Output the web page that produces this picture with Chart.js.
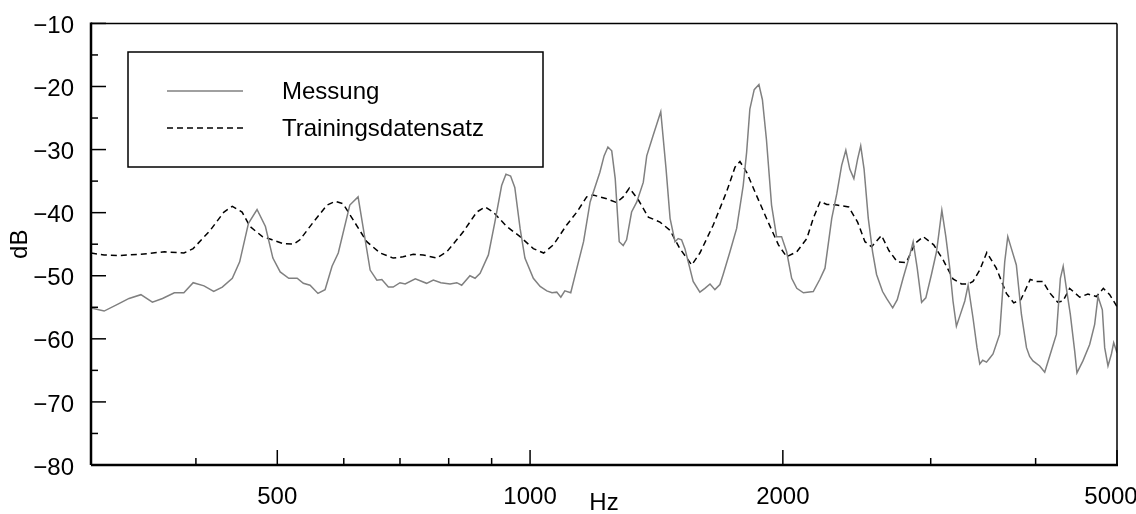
<!DOCTYPE html>
<html lang="de">
<head>
  <meta charset="UTF-8">
  <title>Messung vs. Trainingsdatensatz</title>
  <script src="https://cdn.jsdelivr.net/npm/chart.js"></script>
  <style>
    body {
      margin: 0;
      background: #fff;
    }
    #wrap {
      width: 1136px;
      height: 514px;
    }
  </style>
</head>
<body>

<div id="wrap"><canvas id="spectrum" width="1136" height="514"></canvas></div>

<script>
// Messung (Hz / dB)
const msFreq = [300, 311, 323, 333, 344, 355, 365, 377, 387, 397, 409, 420, 430, 442, 451, 462, 473, 484, 494,
  504, 516, 528, 537, 547, 559, 570, 581, 591, 610, 624, 645, 657, 666, 678, 687, 700, 710, 730, 753, 767, 783,
  803, 818, 829, 848, 860, 872, 892, 908, 925, 936, 948, 959, 973, 986, 1009, 1028, 1047, 1062, 1076, 1088, 1100,
  1118, 1137, 1158, 1179, 1211, 1225, 1238, 1251, 1263, 1277, 1291, 1303, 1321, 1340, 1364, 1377, 1401, 1431,
  1452, 1468, 1488, 1501, 1515, 1529, 1564, 1593, 1615, 1638, 1660, 1683, 1698, 1730, 1762, 1794, 1811, 1827,
  1849, 1873, 1891, 1912, 1939, 1966, 1993, 2021, 2049, 2078, 2116, 2174, 2213, 2245, 2287, 2319, 2350, 2377,
  2403, 2430, 2455, 2476, 2499, 2528, 2558, 2586, 2629, 2658, 2703, 2737, 2781, 2833, 2859, 2891, 2926, 2960,
  3006, 3048, 3070, 3093, 3127, 3161, 3189, 3219, 3249, 3294, 3324, 3369, 3406, 3432, 3460, 3496, 3530, 3559,
  3624, 3675, 3706, 3743, 3794, 3847, 3901, 3935, 3971, 4045, 4101, 4176, 4234, 4281, 4314, 4352, 4399, 4452,
  4480, 4554, 4639, 4703, 4746, 4803, 4834, 4878, 4924, 4955, 5000];
const msDb = [-55.1, -55.6, -54.5, -53.6, -53.0, -54.2, -53.6, -52.7, -52.7, -51.1, -51.6, -52.5, -51.8, -50.4, -47.8, -41.7, -39.5, -42.2, -47.2,
  -49.4, -50.4, -50.4, -51.2, -51.5, -52.8, -52.2, -48.5, -46.4, -38.8, -37.5, -49.1, -50.7, -50.6, -51.8, -51.8, -51.1, -51.3, -50.5, -51.2, -50.7, -51.1,
  -51.3, -51.1, -51.5, -50.0, -50.4, -49.6, -46.7, -41.5, -35.7, -33.9, -34.2, -36.0, -42.5, -47.2, -50.4, -51.7, -52.4, -52.7, -52.6, -53.4, -52.4,
  -52.7, -48.8, -44.6, -38.3, -33.6, -31.0, -29.6, -30.2, -34.6, -44.6, -45.2, -44.3, -39.9, -38.3, -35.2, -31.0, -27.8, -24.0,
  -33.1, -40.9, -44.6, -44.1, -44.3, -45.7, -50.9, -52.6, -52.0, -51.3, -52.2, -51.4, -49.8, -46.2, -42.5, -35.7, -30.4, -23.6,
  -20.5, -19.7, -22.1, -28.4, -38.8, -43.8, -43.8, -46.2, -50.4, -52.0, -52.7, -52.5, -50.6, -48.8, -40.9, -37.0, -32.5, -30.1,
  -33.1, -34.6, -31.5, -29.4, -33.1, -40.9, -46.2, -49.8, -52.5, -53.6, -55.1, -53.8, -50.4, -46.7, -44.6, -48.8, -54.2, -53.5,
  -49.8, -46.2, -43.0, -39.6, -43.8, -48.8, -54.0, -58.0, -56.4, -54.0, -51.5, -56.7, -61.4, -64.0, -63.4, -63.7, -63.0, -62.4,
  -59.3, -47.8, -43.8, -45.7, -48.3, -56.1, -61.4, -62.8, -63.5, -64.3, -65.3, -61.9, -59.3, -50.4, -48.5, -52.0, -56.1, -61.9,
  -65.4, -63.5, -60.9, -57.7, -53.3, -55.4, -61.4, -64.3, -62.4, -60.6, -62.2];

// Trainingsdatensatz (Hz / dB)
const trFreq = [300, 311, 323, 344, 367, 387, 397, 416, 432, 442, 454, 464, 480, 493, 508, 523, 532, 552, 573,
  586, 599, 616, 639, 663, 687, 706, 726, 746, 774, 796, 833, 864, 884, 904, 938, 973, 1009, 1038, 1066, 1105,
  1137, 1168, 1189, 1234, 1268, 1291, 1313, 1346, 1383, 1428, 1468, 1508, 1558, 1593, 1652, 1714, 1754, 1778,
  1811, 1861, 1921, 1976, 2021, 2078, 2136, 2174, 2216, 2256, 2319, 2396, 2455, 2505, 2551, 2621, 2675, 2737,
  2806, 2873, 2939, 3025, 3104, 3189, 3264, 3324, 3369, 3432, 3499, 3591, 3692, 3767, 3840, 3882, 3941, 4007,
  4079, 4163, 4249, 4312, 4391, 4514, 4617, 4725, 4816, 4901, 5000];
const trDb = [-46.4, -46.7, -46.8, -46.6, -46.2, -46.4, -45.7, -42.8, -39.9, -39.0, -39.9, -42.2, -43.8, -44.3, -44.9, -45.0, -44.3, -41.5, -38.8,
  -38.2, -38.6, -41.2, -44.6, -46.4, -47.2, -47.0, -46.6, -46.7, -47.2, -46.2, -43.0, -39.9, -39.1, -39.9, -42.2, -43.8, -45.7, -46.4, -45.1, -42.0,
  -39.9, -37.5, -37.2, -37.8, -38.4, -37.5, -36.1, -38.0, -40.7, -41.5, -42.8, -45.7, -48.3, -46.4, -42.0, -36.7, -32.8, -31.9,
  -33.6, -37.3, -41.5, -45.1, -47.0, -46.2, -44.1, -40.9, -38.2, -38.7, -38.8, -39.1, -41.5, -44.6, -45.4, -43.6, -46.0, -47.8,
  -47.9, -44.9, -43.8, -45.1, -47.5, -50.5, -51.3, -51.3, -50.9, -49.1, -46.3, -48.8, -52.8, -54.3, -53.8, -52.5, -50.6, -50.9,
  -50.9, -52.8, -54.2, -54.0, -52.0, -53.4, -52.9, -53.3, -52.0, -53.0, -54.9];

const xLabels = [500, 1000, 2000, 5000];
const xMinor = [400, 600, 700, 800, 900, 3000, 4000];
const yLabels = [-80, -70, -60, -50, -40, -30, -20, -10];
const yMinor = [-75, -65, -55, -45, -35, -25, -15];

const font = { family: "'Liberation Sans', Arial, Helvetica, sans-serif", size: 24 };

function toPoints(xs, ys) {
  return xs.map((x, i) => ({ x, y: ys[i] }));
}

// Rahmen, nach innen zeigende Striche und Legende im Diagramm
const frameAndLegend = {
  id: 'frameAndLegend',
  afterDatasetsDraw(chart) {
    const { ctx, chartArea: a, scales: { x, y } } = chart;
    const seg = (x1, y1, x2, y2) => {
      ctx.beginPath();
      ctx.moveTo(x1, y1);
      ctx.lineTo(x2, y2);
      ctx.stroke();
    };
    ctx.save();
    ctx.strokeStyle = '#000';
    ctx.lineWidth = 1.5;
    yLabels.forEach(v => { const p = y.getPixelForValue(v); seg(a.left, p, a.left + 15, p); });
    yMinor.forEach(v => { const p = y.getPixelForValue(v); seg(a.left, p, a.left + 7, p); });
    xLabels.forEach(v => { const p = x.getPixelForValue(v); seg(p, a.bottom, p, a.bottom - 15); });
    xMinor.forEach(v => { const p = x.getPixelForValue(v); seg(p, a.bottom, p, a.bottom - 7); });

    seg(a.left, a.top, a.right, a.top);
    seg(a.right, a.top, a.right, a.bottom);
    ctx.lineWidth = 2.5;
    seg(a.left, a.top - 1, a.left, a.bottom);
    seg(a.left, a.bottom, a.right + 1, a.bottom);

    // Legende
    ctx.fillStyle = '#fff';
    ctx.fillRect(128, 52, 415, 115);
    ctx.lineWidth = 1.5;
    ctx.strokeRect(128, 52, 415, 115);
    ctx.font = `${font.size}px ${font.family}`;
    ctx.textBaseline = 'middle';
    ctx.textAlign = 'left';
    chart.data.datasets.forEach((ds, i) => {
      const ly = 91 + i * 37;
      ctx.strokeStyle = ds.borderColor;
      ctx.lineWidth = ds.borderWidth;
      ctx.setLineDash(ds.borderDash || []);
      seg(167, ly, 243, ly);
      ctx.setLineDash([]);
      ctx.fillStyle = '#000';
      ctx.fillText(ds.label, 282, ly + 1);
    });
    ctx.restore();
  }
};

new Chart(document.getElementById('spectrum'), {
  type: 'line',
  data: {
    datasets: [
      {
        label: 'Messung',
        data: toPoints(msFreq, msDb),
        borderColor: '#808080',
        borderWidth: 1.5
      },
      {
        label: 'Trainingsdatensatz',
        data: toPoints(trFreq, trDb),
        borderColor: '#000',
        borderWidth: 1.5,
        borderDash: [6, 4]
      }
    ]
  },
  options: {
    responsive: false,
    animation: false,
    layout: { padding: { top: 20, right: 19, bottom: 0, left: 0 } },
    elements: { point: { radius: 0 }, line: { tension: 0 } },
    plugins: {
      legend: { display: false },
      tooltip: { enabled: false }
    },
    scales: {
      x: {
        type: 'logarithmic',
        min: 300,
        max: 5000,
        grid: { display: false },
        border: { display: false },
        afterBuildTicks: s => { s.ticks = xLabels.map(v => ({ value: v })); },
        afterFit: s => {
          s.height = 49;
          s.paddingLeft = 0;
          s.paddingRight = 0;
        },
        ticks: {
          color: '#000', font, padding: 10, maxRotation: 0, autoSkip: false,
          // letzte Beschriftung wie im Original etwas nach links gerückt
          callback: v => v === 5000 ? String(v) + '\u2002' : String(v)
        },
        title: { display: true, text: 'Hz', color: '#000', font, padding: { top: 0, bottom: -4 } }
      },
      y: {
        min: -80,
        max: -10,
        grid: { display: false },
        border: { display: false },
        afterBuildTicks: s => { s.ticks = yLabels.map(v => ({ value: v })); },
        afterFit: s => { s.width = 91; },
        ticks: {
          color: '#000', font, padding: 9, labelOffset: 3,
          callback: v => String(v).replace('-', '\u2212')
        },
        title: { display: true, text: 'dB', color: '#000', font, padding: { top: 6, bottom: 0 } }
      }
    }
  },
  plugins: [frameAndLegend]
});
</script>
</body>
</html>
